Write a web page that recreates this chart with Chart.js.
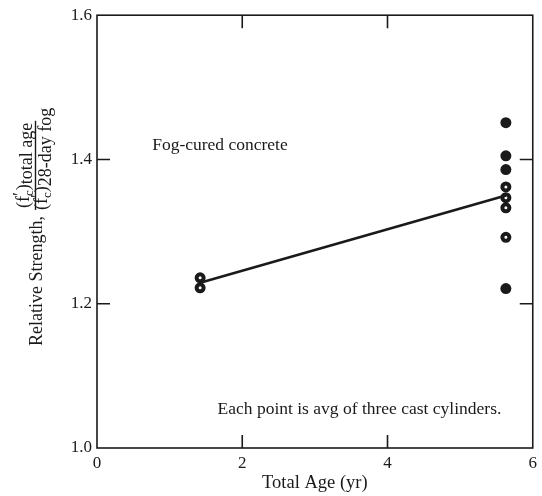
<!DOCTYPE html>
<html>
<head>
<meta charset="utf-8">
<script src="https://cdn.jsdelivr.net/npm/chart.js@4.4.1/dist/chart.umd.min.js"></script>
<style>
  html, body { margin: 0; padding: 0; background: #fff; }
  #wrap { width: 542px; height: 496px; }
</style>
</head>
<body>
<div id="wrap"><canvas id="chart"></canvas></div>
<script>
// data
let xTicks = [0, 2, 4, 6];
let yTicks = [1.0, 1.2, 1.4, 1.6];
let solidX = [5.63, 5.63, 5.63, 5.63];
let solidY = [1.451, 1.405, 1.386, 1.221];
let ringX = [1.42, 1.42, 5.63, 5.63, 5.63, 5.63];
let ringY = [1.236, 1.222, 1.362, 1.347, 1.333, 1.292];
let fitX = [1.42, 5.63];
let fitY = [1.229, 1.350];

let note1 = 'Fog-cured concrete';
let note2 = 'Each point is avg of three cast cylinders.';
let xTitle = 'Total Age (yr)';

let serif = '"Liberation Serif", "Times New Roman", serif';
let ink = '#1a1a1a';

function pts(xs, ys) {
  return xs.map((x, i) => ({ x: x, y: ys[i] }));
}

// frame, inner ticks, notes and the fraction y title
let framePlugin = {
  id: 'frame',
  afterDraw(chart) {
    let ctx = chart.ctx;
    let a = chart.chartArea;
    let xs = chart.scales.x, ys = chart.scales.y;
    ctx.save();
    ctx.strokeStyle = ink;
    ctx.lineWidth = 1.6;
    ctx.strokeRect(a.left, a.top, a.right - a.left, a.bottom - a.top);
    let tl = 13;
    ctx.beginPath();
    xTicks.slice(1, -1).forEach(v => {
      let px = xs.getPixelForValue(v);
      ctx.moveTo(px, a.bottom); ctx.lineTo(px, a.bottom - tl);
      ctx.moveTo(px, a.top); ctx.lineTo(px, a.top + tl);
    });
    yTicks.slice(1, -1).forEach(v => {
      let py = ys.getPixelForValue(v);
      ctx.moveTo(a.left, py); ctx.lineTo(a.left + tl, py);
      ctx.moveTo(a.right, py); ctx.lineTo(a.right - tl, py);
    });
    ctx.stroke();

    // notes inside the plot
    ctx.fillStyle = ink;
    ctx.font = '17.5px ' + serif;
    ctx.textBaseline = 'middle';
    ctx.textAlign = 'left';
    ctx.fillText(note1, xs.getPixelForValue(0.76), ys.getPixelForValue(1.42));
    ctx.fillText(note2, xs.getPixelForValue(1.66), ys.getPixelForValue(1.054));

    // rotated y title: Relative Strength, (f'c)total age / (f'c)28-day fog
    ctx.translate(0, 496);
    ctx.rotate(-Math.PI / 2);
    ctx.textBaseline = 'alphabetic';
    let big = '18px ' + serif, small = '13px ' + serif;
    ctx.font = big;
    ctx.fillText('Relative Strength,', 150, 42);
    let u0 = 286;
    function frac(u, v) {
      ctx.font = big;
      ctx.fillText('(f', u, v);
      u += ctx.measureText('(f').width;
      ctx.fillText('\u2032', u, v - 3);
      ctx.font = small;
      ctx.fillText('c', u, v + 4);
      u += ctx.measureText('c').width;
      ctx.font = big;
      ctx.fillText(')', u, v);
      u += ctx.measureText(')').width;
      return u;
    }
    let un = frac(u0 + 2, 29);
    ctx.font = big;
    ctx.fillText('total age', un, 32);
    let unEnd = un + ctx.measureText('total age').width;
    let ud = frac(u0, 47);
    ctx.fillText('28-day fog', ud, 51);
    ctx.lineWidth = 1.4;
    ctx.beginPath();
    ctx.moveTo(u0, 35.5);
    ctx.lineTo(unEnd + 2, 35.5);
    ctx.stroke();
    ctx.restore();
  }
};

let ctx = document.getElementById('chart').getContext('2d');

let chart = new Chart(ctx, {
  type: 'scatter',
  data: {
    datasets: [
      {
        label: 'fit',
        data: pts(fitX, fitY),
        showLine: true,
        borderColor: ink,
        borderWidth: 2.6,
        pointRadius: 0
      },
      {
        label: 'solid',
        data: pts(solidX, solidY),
        backgroundColor: ink,
        borderWidth: 0,
        pointRadius: 5.5
      },
      {
        label: 'ring',
        data: pts(ringX, ringY),
        backgroundColor: '#ffffff',
        borderColor: ink,
        borderWidth: 4,
        pointRadius: 3.5
      }
    ]
  },
  options: {
    responsive: true,
    maintainAspectRatio: false,
    animation: false,
    layout: { padding: { top: 14, right: 7, left: 0, bottom: 0 } },
    plugins: {
      legend: { display: false },
      tooltip: { enabled: false }
    },
    scales: {
      x: {
        type: 'linear',
        min: 0,
        max: 6,
        afterFit(s) { s.height = 48; },
        afterBuildTicks(s) { s.ticks = xTicks.map(v => ({ value: v })); },
        grid: { display: false, drawTicks: false },
        border: { display: false },
        ticks: { color: ink, padding: 5, font: { family: serif, size: 17 } },
        title: {
          display: true,
          text: xTitle,
          color: ink,
          padding: { top: 0, bottom: 2 },
          font: { family: serif, size: 18.5 }
        }
      },
      y: {
        type: 'linear',
        min: 1.0,
        max: 1.6,
        afterFit(s) { s.width = 97; },
        afterBuildTicks(s) { s.ticks = yTicks.map(v => ({ value: v })); },
        grid: { display: false, drawTicks: false },
        border: { display: false },
        ticks: {
          color: ink,
          padding: 5,
          font: { family: serif, size: 17 },
          callback: v => v.toFixed(1)
        }
      }
    }
  },
  plugins: [framePlugin]
});
</script>
</body>
</html>
